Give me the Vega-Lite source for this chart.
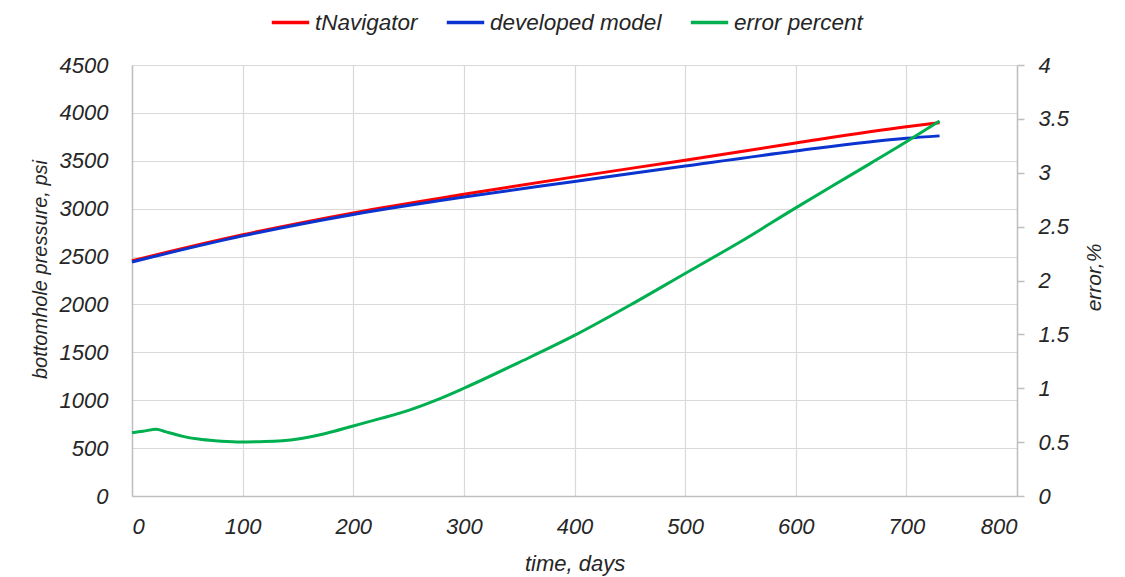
{
  "$schema": "https://vega.github.io/schema/vega-lite/v6.json",
  "autosize": {"type": "none"},
  "width": 885,
  "height": 431,
  "padding": {"left": 132, "top": 65, "right": 108, "bottom": 81},
  "background": "white",
  "datasets": {
    "pressure": [
      {"day": 0, "series": "tNavigator", "value": 2456},
      {"day": 100, "series": "tNavigator", "value": 2727},
      {"day": 200, "series": "tNavigator", "value": 2956},
      {"day": 300, "series": "tNavigator", "value": 3150},
      {"day": 400, "series": "tNavigator", "value": 3332},
      {"day": 500, "series": "tNavigator", "value": 3506},
      {"day": 600, "series": "tNavigator", "value": 3686},
      {"day": 700, "series": "tNavigator", "value": 3855},
      {"day": 730, "series": "tNavigator", "value": 3898},
      {"day": 0, "series": "developed model", "value": 2444},
      {"day": 100, "series": "developed model", "value": 2716},
      {"day": 200, "series": "developed model", "value": 2940},
      {"day": 300, "series": "developed model", "value": 3122},
      {"day": 400, "series": "developed model", "value": 3284},
      {"day": 500, "series": "developed model", "value": 3446},
      {"day": 600, "series": "developed model", "value": 3602},
      {"day": 700, "series": "developed model", "value": 3735},
      {"day": 730, "series": "developed model", "value": 3760}
    ],
    "error": [
      {"day": 0, "series": "error percent", "value": 0.587},
      {"day": 10, "series": "error percent", "value": 0.6},
      {"day": 22, "series": "error percent", "value": 0.62},
      {"day": 30, "series": "error percent", "value": 0.597},
      {"day": 45, "series": "error percent", "value": 0.556},
      {"day": 60, "series": "error percent", "value": 0.528},
      {"day": 75, "series": "error percent", "value": 0.512},
      {"day": 95, "series": "error percent", "value": 0.502},
      {"day": 120, "series": "error percent", "value": 0.506},
      {"day": 150, "series": "error percent", "value": 0.53},
      {"day": 175, "series": "error percent", "value": 0.58},
      {"day": 200, "series": "error percent", "value": 0.65},
      {"day": 225, "series": "error percent", "value": 0.72},
      {"day": 250, "series": "error percent", "value": 0.795},
      {"day": 275, "series": "error percent", "value": 0.89},
      {"day": 300, "series": "error percent", "value": 1.0},
      {"day": 350, "series": "error percent", "value": 1.24},
      {"day": 400, "series": "error percent", "value": 1.49},
      {"day": 450, "series": "error percent", "value": 1.77},
      {"day": 500, "series": "error percent", "value": 2.065},
      {"day": 550, "series": "error percent", "value": 2.36},
      {"day": 600, "series": "error percent", "value": 2.674},
      {"day": 650, "series": "error percent", "value": 2.98},
      {"day": 700, "series": "error percent", "value": 3.287},
      {"day": 730, "series": "error percent", "value": 3.48}
    ]
  },
  "config": {
    "view": {"stroke": null},
    "font": "Liberation Sans",
    "axis": {
      "labelFont": "Liberation Sans",
      "labelFontStyle": "italic",
      "labelFontSize": 22,
      "labelColor": "#262626",
      "titleFont": "Liberation Sans",
      "titleFontStyle": "italic",
      "titleFontWeight": "normal",
      "titleFontSize": 20,
      "titleColor": "#262626",
      "domainColor": "#BFBFBF",
      "domainWidth": 1.5,
      "gridColor": "#D9D9D9",
      "gridWidth": 1.2,
      "tickColor": "#BFBFBF",
      "tickWidth": 1.5
    },
    "legend": {
      "labelFont": "Liberation Sans",
      "labelFontStyle": "italic",
      "labelFontSize": 22.5,
      "labelColor": "#262626",
      "labelLimit": 400
    }
  },
  "layer": [
    {
      "data": {"name": "pressure"},
      "mark": {"type": "line", "strokeWidth": 3, "interpolate": "monotone"},
      "encoding": {
        "x": {
          "field": "day", "type": "quantitative",
          "scale": {"domain": [0, 800], "nice": false},
          "axis": {
            "title": "time, days",
            "titleFontSize": 22,
            "titleBaseline": "middle",
            "titleY": 67,
            "values": [0, 100, 200, 300, 400, 500, 600, 700, 800],
            "ticks": false,
            "labelPadding": 20,
            "grid": true
          }
        },
        "y": {
          "field": "value", "type": "quantitative",
          "scale": {"domain": [0, 4500], "nice": false},
          "axis": {
            "title": "bottomhole pressure, psi",
            "titleFontSize": 20,
            "titleBaseline": "middle",
            "titleAngle": -90,
            "titleX": -92,
            "titleY": 204,
            "format": "d",
            "values": [0, 500, 1000, 1500, 2000, 2500, 3000, 3500, 4000, 4500],
            "ticks": false,
            "labelPadding": 24,
            "grid": true
          }
        },
        "color": {
          "field": "series", "type": "nominal",
          "scale": {
            "domain": ["tNavigator", "developed model", "error percent"],
            "range": ["#FF0000", "#0A33CF", "#00B050"]
          },
          "legend": {
            "title": null,
            "orient": "none",
            "direction": "horizontal",
            "legendX": 138,
            "legendY": -63,
            "symbolType": "stroke",
            "symbolSize": 1400,
            "symbolStrokeWidth": 3.5,
            "labelOffset": 4,
            "columnPadding": 21
          }
        }
      }
    },
    {
      "data": {"name": "error"},
      "mark": {"type": "line", "strokeWidth": 3, "interpolate": "monotone"},
      "encoding": {
        "x": {"field": "day", "type": "quantitative", "scale": {"domain": [0, 800], "nice": false}},
        "y": {
          "field": "value", "type": "quantitative",
          "scale": {"domain": [0, 4], "nice": false},
          "axis": {
            "orient": "right",
            "title": "error,%",
            "titleFontSize": 21,
            "titleAngle": -90,
            "titleBaseline": "middle",
            "titleX": 77,
            "titleY": 212,
            "format": "~g",
            "values": [0, 0.5, 1, 1.5, 2, 2.5, 3, 3.5, 4],
            "ticks": true,
            "tickSize": 7,
            "labelPadding": 14,
            "grid": false
          }
        },
        "color": {"field": "series", "type": "nominal"}
      }
    }
  ],
  "resolve": {"scale": {"y": "independent"}}
}
